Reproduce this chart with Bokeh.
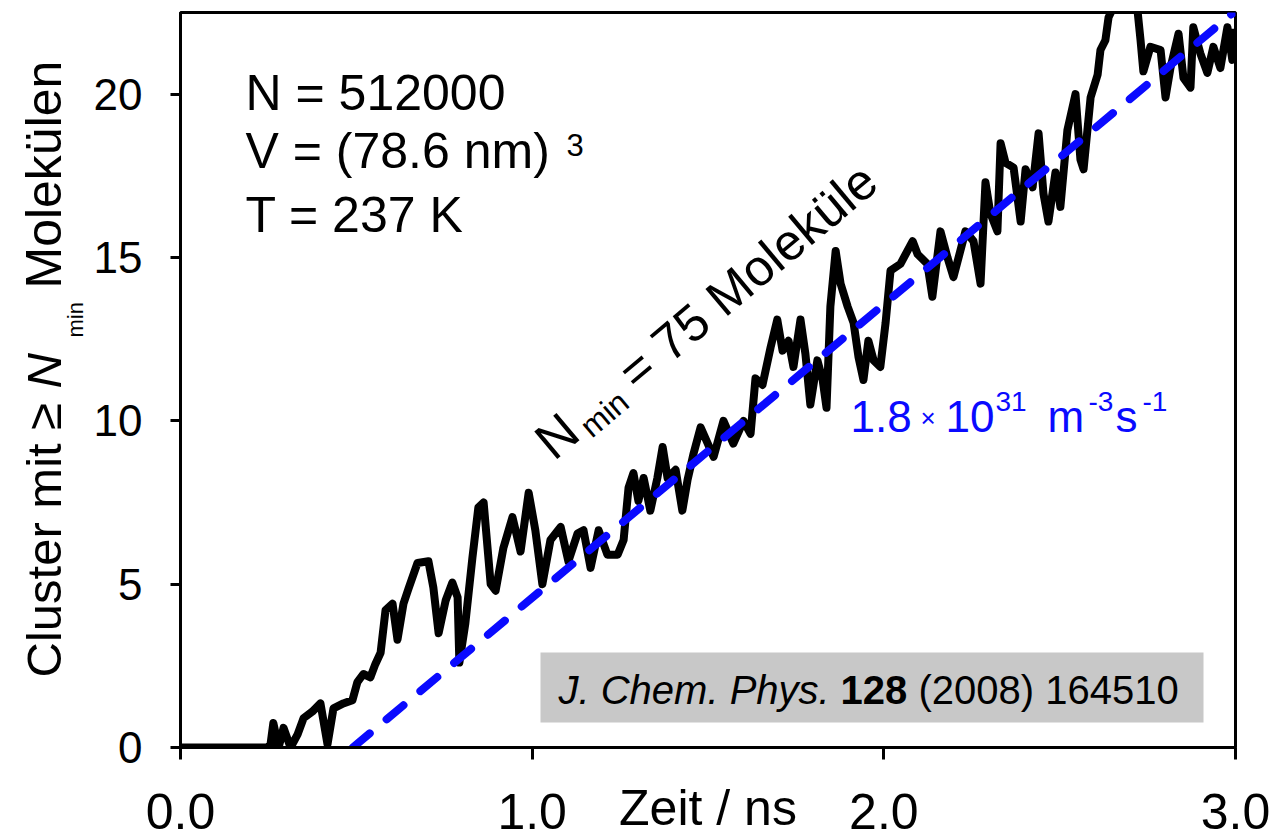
import math
from bokeh.plotting import figure
from bokeh.layouts import row
from bokeh.models import Label, BoxAnnotation, FixedTicker, PrintfTickFormatter, Range1d
from bokeh.embed import file_html
from bokeh.resources import INLINE

# ---------------- data ----------------
time_ns = [0.0, 0.247, 0.256, 0.264, 0.279, 0.293, 0.313, 0.333, 0.350, 0.375, 0.398, 0.418,
           0.435, 0.463, 0.489, 0.503, 0.520, 0.540, 0.554, 0.569, 0.583, 0.603, 0.617, 0.634,
           0.648, 0.674, 0.705, 0.719, 0.734, 0.754, 0.773, 0.788, 0.793, 0.810, 0.830, 0.847,
           0.862, 0.882, 0.896, 0.918, 0.944, 0.967, 0.990, 1.009, 1.029, 1.052, 1.081, 1.103,
           1.129, 1.146, 1.166, 1.189, 1.214, 1.243, 1.260, 1.274, 1.288, 1.302, 1.317, 1.336,
           1.356, 1.371, 1.385, 1.408, 1.427, 1.442, 1.459, 1.479, 1.516, 1.544, 1.572, 1.601,
           1.621, 1.635, 1.655, 1.678, 1.697, 1.712, 1.729, 1.743, 1.763, 1.777, 1.791, 1.811,
           1.826, 1.837, 1.848, 1.863, 1.877, 1.897, 1.914, 1.928, 1.942, 1.956, 1.971, 1.990,
           2.005, 2.019, 2.047, 2.082, 2.096, 2.124, 2.138, 2.161, 2.181, 2.198, 2.232, 2.255,
           2.275, 2.289, 2.303, 2.323, 2.332, 2.346, 2.369, 2.389, 2.403, 2.423, 2.440, 2.454,
           2.468, 2.488, 2.502, 2.522, 2.545, 2.559, 2.568, 2.588, 2.608, 2.616, 2.630, 2.639,
           2.650, 2.664, 2.679, 2.701, 2.716, 2.721, 2.730, 2.738, 2.758, 2.787, 2.801, 2.815,
           2.838, 2.852, 2.872, 2.880, 2.900, 2.920, 2.937, 2.957, 2.977, 2.991, 3.000]
clusters = [0, 0, 0.1, 0.75, 0.0, 0.6, 0.0, 0.4, 0.9, 1.1, 1.35, 0.1,
            1.2, 1.35, 1.45, 2.0, 2.25, 2.15, 2.55, 2.9, 4.2, 4.4, 3.3, 4.4,
            4.85, 5.65, 5.7, 4.9, 3.5, 4.5, 5.05, 4.6, 2.6, 3.8, 5.8, 7.35,
            7.5, 5.0, 4.8, 6.1, 7.05, 6.0, 7.8, 6.65, 5.0, 6.35, 6.75, 5.7,
            6.55, 6.65, 5.5, 6.65, 5.9, 5.9, 6.35, 7.95, 8.4, 7.55, 8.25, 7.25,
            8.25, 9.2, 8.25, 8.5, 7.25, 8.2, 9.0, 9.8, 8.9, 10.0, 9.3, 10.0,
            9.6, 11.3, 11.1, 12.25, 13.1, 12.15, 12.45, 11.65, 13.1, 12.05, 10.5, 11.85,
            11.25, 10.4, 13.5, 15.2, 14.2, 13.5, 13.0, 11.95, 11.25, 12.45, 11.85, 11.65,
            13.0, 14.6, 14.8, 15.5, 15.1, 14.8, 13.8, 15.8, 15.0, 14.4, 15.8, 15.5,
            14.2, 17.3, 16.35, 15.8, 18.5, 17.9, 17.75, 16.1, 17.7, 17.15, 18.8, 16.95,
            16.1, 17.6, 16.55, 18.9, 20.0, 18.0, 17.7, 19.9, 20.6, 21.35, 21.65, 22.35,
            22.6, 23.0, 23.5, 23.5, 23.0, 22.6, 21.65, 20.7, 21.45, 21.35, 19.9, 20.8,
            21.85, 20.5, 20.2, 22.05, 21.25, 20.65, 21.45, 20.8, 22.05, 21.05, 22.0]

fit_x = [0.49, 3.0]
fit_y = [0.0, 22.55]

x_ticks = [0, 1, 2, 3]
y_ticks = [0, 5, 10, 15, 20]

XMIN, XMAX = 0.0, 3.0
YMIN, YMAX = 0.0, 22.5

FONT = "Liberation Sans"
BLUE = "#0a0aff"

W, H = 1270, 838
LEFT_W = 90          # width of the strip that holds the y-axis title
# frame geometry (window pixels) used to place annotations
FX0, FX1, FY0, FY1 = 180, 1235, 12, 747
K_BASE = 0.39        # baseline correction (fraction of font size)


def sx(px):
    return XMIN + (px - FX0) * (XMAX - XMIN) / (FX1 - FX0)


def sy(py):
    return YMIN + (FY1 - py) * (YMAX - YMIN) / (FY1 - FY0)


p = figure(width=W - LEFT_W, height=H, x_range=Range1d(XMIN, XMAX), y_range=Range1d(YMIN, YMAX),
           output_backend="svg", toolbar_location=None, title=None,
           min_border_left=FX0 - LEFT_W, min_border_right=W - FX1, min_border_top=FY0,
           min_border_bottom=H - FY1)
p.grid.visible = False
p.outline_line_color = "black"
p.outline_line_width = 3
p.background_fill_color = "white"
p.border_fill_color = "white"

xa = p.xaxis[0]
xa.ticker = FixedTicker(ticks=x_ticks)
xa.formatter = PrintfTickFormatter(format="%.1f")
xa.major_label_text_font = FONT
xa.major_label_text_font_size = "50px"
xa.major_label_text_color = "black"
xa.major_label_text_line_height = 1.0
xa.major_label_standoff = 34
xa.axis_line_width = 3
xa.major_tick_line_width = 3
xa.major_tick_out = 12
xa.major_tick_in = 0
xa.minor_tick_line_color = None
xa.axis_label = "Zeit / ns"
xa.axis_label_text_font = FONT
xa.axis_label_text_font_size = "50px"
xa.axis_label_text_font_style = "normal"
xa.axis_label_text_color = "black"
xa.axis_label_text_line_height = 1.0
xa.axis_label_standoff = -52

ya = p.yaxis[0]
ya.ticker = FixedTicker(ticks=y_ticks)
ya.major_label_text_font = FONT
ya.major_label_text_font_size = "44px"
ya.major_label_text_color = "black"
ya.major_label_standoff = 28
ya.axis_line_width = 3
ya.major_tick_line_width = 3
ya.major_tick_out = 10
ya.major_tick_in = 0
ya.minor_tick_line_color = None

# citation box
p.add_layout(BoxAnnotation(left=sx(540), right=sx(1203), bottom=sy(722), top=sy(652),
                           fill_color="#c8c8c8", fill_alpha=1.0, line_color=None, level="underlay"))

# data
p.line(time_ns, clusters, line_color="black", line_width=8, line_join="round")
p.line(fit_x, fit_y, line_color=BLUE, line_width=8, line_dash="22 22", line_cap="round")


def lab(px, py, text, size, color="black", style="normal", angle=0.0, fig=None):
    # (px, py): wanted baseline start in window pixels
    px = px - math.sin(angle) * K_BASE * size
    py = py - math.cos(angle) * K_BASE * size
    if fig is None:
        fig, x, y = p, sx(px), sy(py)
    else:
        x, y = px, H - py
    fig.add_layout(Label(x=x, y=y, text=text, text_font=FONT,
                         text_font_size=f"{size}px", text_color=color, text_font_style=style,
                         angle=angle, text_align="left", text_baseline="alphabetic"))


# top-left parameters
lab(245, 112, "N = 512000", 50)
lab(245, 170, "V = (78.6 nm)", 50)
lab(566, 157, "3", 31)
lab(245, 234, "T = 237 K", 50)

# rate label
lab(850, 433, "1.8", 44, BLUE)
lab(920, 428, "×", 26, BLUE)
lab(945, 433, "10", 44, BLUE)
lab(995, 412, "31", 28, BLUE)
lab(1047, 433, "m", 44, BLUE)
lab(1088, 412, "-3", 28, BLUE)
lab(1115, 433, "s", 44, BLUE)
lab(1142, 412, "-1", 28, BLUE)

# rotated annotation N_min = 75 Moleküle
ang = math.radians(40)
ux, uy = math.cos(ang), -math.sin(ang)
nx, ny = math.sin(ang), math.cos(ang)
S = (555, 463)
lab(S[0], S[1], "N", 52, angle=ang)
a, d = 43.5, 6
lab(S[0] + ux * a + nx * d, S[1] + uy * a + ny * d, "min", 32, angle=ang)
a = 108
lab(S[0] + ux * a, S[1] + uy * a, "= 75 Moleküle", 51, angle=ang)

# citation
lab(558, 705, "J. Chem. Phys.", 40, style="italic")
lab(840, 705, "128", 40, style="bold")
lab(918, 705, "(2008) 164510", 40)

# left strip with the y-axis title; its frame spans the same rows as the main frame
pl = figure(width=LEFT_W, height=H, x_range=Range1d(0, LEFT_W), y_range=Range1d(H - FY1, H - FY0),
            output_backend="svg", toolbar_location=None, title=None,
            x_axis_type=None, y_axis_type=None,
            min_border_left=0, min_border_right=0, min_border_top=FY0, min_border_bottom=H - FY1)
pl.grid.visible = False
pl.outline_line_color = None
pl.background_fill_color = "white"
pl.border_fill_color = "white"

vang = math.pi / 2
lab(63, 677, "Cluster mit ≥", 49, angle=vang, fig=pl)
lab(63, 388, "N", 49, style="italic", angle=vang, fig=pl)
lab(84, 337, "min", 22, angle=vang, fig=pl)
lab(63, 288, "Molekülen", 50, angle=vang, fig=pl)

layout = row(pl, p, spacing=0)
open("out.html", "w").write(file_html(layout, INLINE))
